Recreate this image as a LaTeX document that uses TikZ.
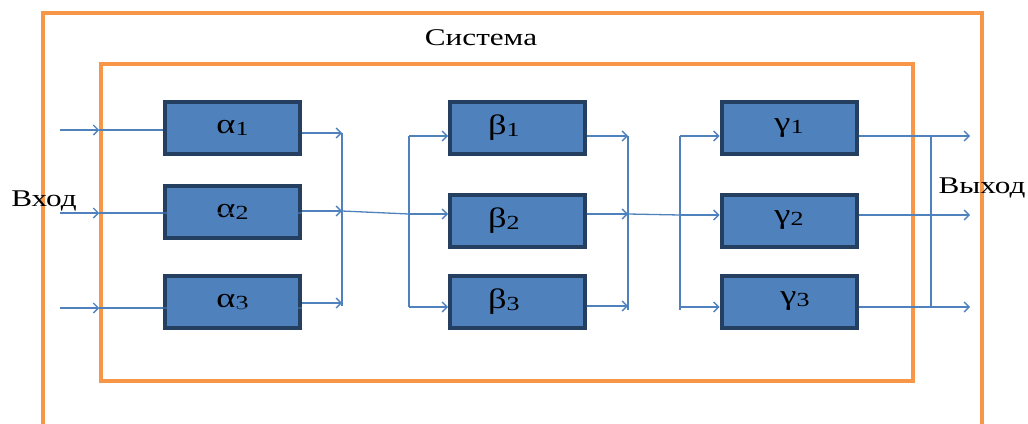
\documentclass[tikz,border=0pt]{standalone}
\usepackage{fontspec}
\setmainfont{Liberation Serif}
\usetikzlibrary{arrows.meta,calc}
\definecolor{orng}{HTML}{F79646}
\definecolor{blu}{HTML}{4F81BD}
\definecolor{dblu}{HTML}{243F60}
\newcommand\wtext[1]{\scalebox{1.3}[1]{#1}}
\newcommand\blab[2]{\wtext{#1\raisebox{-2pt}{\fontsize{20}{20}\selectfont#2}}}
\tikzset{
	frame/.style={draw=orng,line width=3.5pt,inner sep=0pt},
	box/.style={draw=dblu,fill=blu,line width=4pt,minimum width=135pt,minimum height=52pt,inner sep=0pt,font=\fontsize{28}{28}\selectfont},
	wire/.style={draw=blu,line width=1.3pt},
	arr/.style={wire,-{Straight Barb[length=5pt,width=10pt]}},
	lbl/.style={font=\fontsize{24}{24}\selectfont},
}
\begin{document}
\begin{tikzpicture}[x=1pt,y=-1pt]
	\useasboundingbox (0,0) rectangle (1028,423);
	\node[frame,minimum width=939pt,minimum height=432pt] (sys) at (512.5,229) {};
	\node[frame,minimum width=812pt,minimum height=317pt] (core) at (507,222.5) {};
	\node[lbl] (title) at (481,38) {\wtext{Система}};
	\node[lbl] (vhod) at (44,201) {\wtext{Вход}};
	\node[lbl] (vyhod) at (982,188) {\wtext{Выход}};
	% blocks
	\node[box] (a1) at (232.5,128) {\blab{α}{1}};
	\node[box] (a2) at (232.5,212) {\blab{α}{2}};
	\node[box] (a3) at (232.5,302) {\blab{α}{3}};
	\node[box,text width=135pt,align=left] (b1) at (517.5,128) {\hspace{38pt}\blab{β}{1}};
	\node[box,text width=135pt,align=left] (b2) at (517.5,220.5) {\hspace{38pt}\blab{β}{2}};
	\node[box,text width=135pt,align=left] (b3) at (517.5,301.5) {\hspace{38pt}\blab{β}{3}};
	\node[box] (g1) at (789,128) {\blab{γ}{1}};
	\node[box] (g2) at (789,220.5) {\blab{γ}{2}};
	\node[box] (g3) at (789,301.5) {\hspace{12pt}\blab{γ}{3}};
	\path
	(60,130) coordinate (x1)
	(60,213) coordinate (x2)
	(60,308) coordinate (x3)
	(342,133) coordinate (p1)
	(342,211) coordinate (p2)
	(342,303) coordinate (p3)
	(409,136) coordinate (q1)
	(409,214) coordinate (q2)
	(409,307) coordinate (q3)
	(628,136) coordinate (r1)
	(628,214) coordinate (r2)
	(628,306) coordinate (r3)
	(680,136) coordinate (s1)
	(680,215) coordinate (s2)
	(680,307) coordinate (s3)
	(931,136) coordinate (t1)
	(931,215) coordinate (t2)
	(931,307) coordinate (t3)
	(970,136) coordinate (y1)
	(970,215) coordinate (y2)
	(970,307) coordinate (y3)
	;
	% inputs
	\foreach \i in {1,2,3}{
		\draw[arr] (x\i) -- (x\i -| core.west);
		\draw[wire] (x\i -| core.west) -- (x\i -| a\i.west);
	}
	\draw[wire,opacity=.5] (x2 -| a2.west) -- (x2 -| a2.east);
	\draw[wire,opacity=.5] (x3 -| a3.west) -- (x3 -| a3.east);
	% alpha -> beta
	\foreach \i in {1,2,3}
		\draw[arr] (p\i -| a\i.east) -- (p\i);
	\draw[wire] (p1) -- ($(p3)+(0,3)$);
	\draw[wire] (p2) -- (q2);
	\draw[wire] (q1) -- (q3);
	\foreach \i in {1,2,3}
		\draw[arr] (q\i) -- (q\i -| b\i.west);
	% beta -> gamma
	\foreach \i in {1,2,3}
		\draw[arr] (r\i -| b\i.east) -- (r\i);
	\draw[wire] (r1) -- ($(r3)+(0,4)$);
	\draw[wire] (r2) -- (s2);
	\draw[wire] (s1) -- ($(s3)+(0,3)$);
	\foreach \i in {1,2,3}
		\draw[arr] (s\i) -- (s\i -| g\i.west);
	% outputs
	\foreach \i in {1,2,3}{
		\draw[wire] (t\i -| g\i.east) -- (t\i);
		\draw[arr] (t\i) -- (y\i);
	}
	\draw[wire] (t1) -- (t3);
\end{tikzpicture}
\end{document}
